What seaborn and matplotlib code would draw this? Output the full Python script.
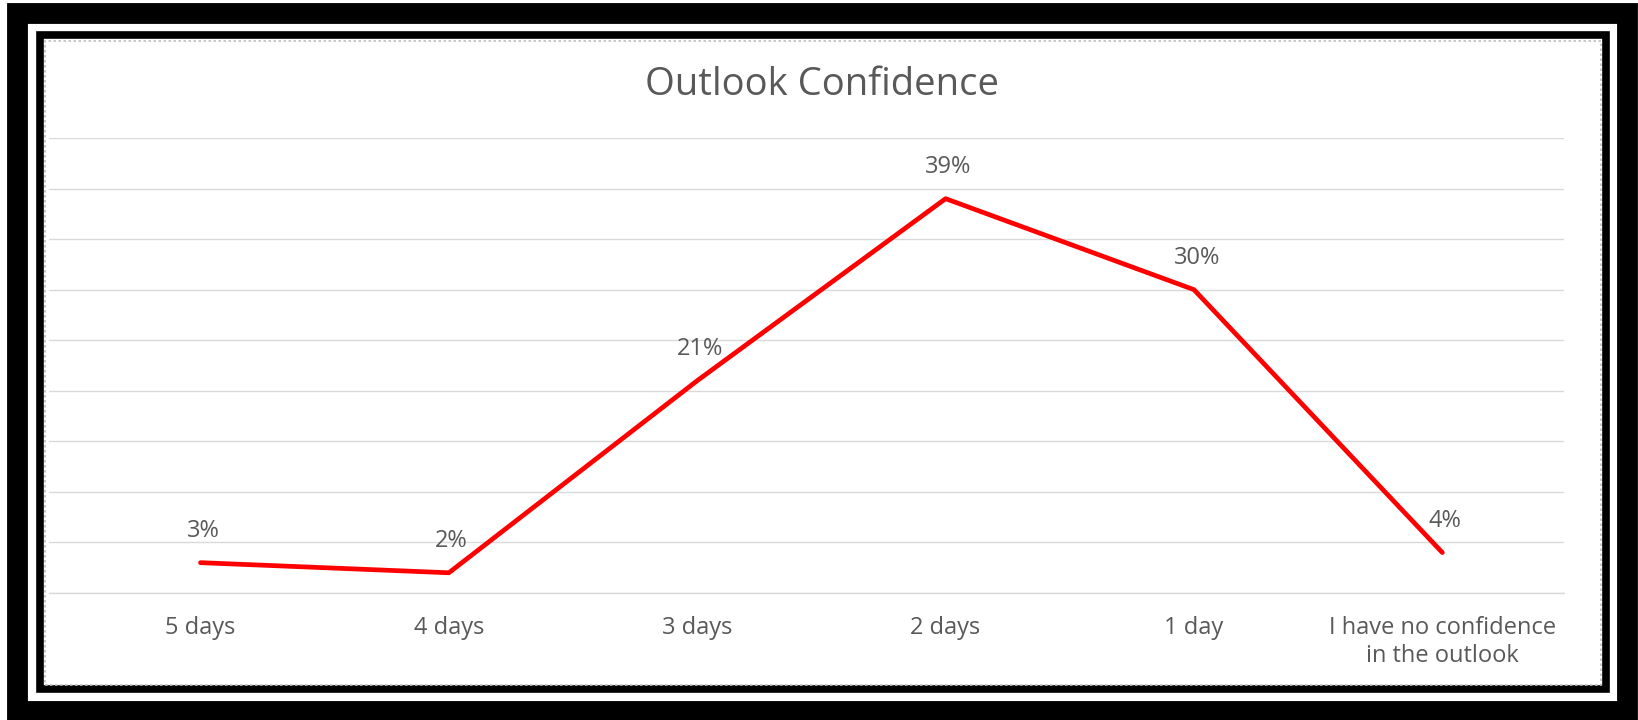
import matplotlib
import matplotlib.pyplot as plt
import pandas as pd
import seaborn as sns
from matplotlib.patches import Rectangle

categories = ['5 days', '4 days', '3 days', '2 days', '1 day',
              'I have no confidence\nin the outlook']
values = [3, 2, 21, 39, 30, 4]
labels = ['3%', '2%', '21%', '39%', '30%', '4%']

df = pd.DataFrame({'when': categories, 'pct': values})

sns.set_style('white')
plt.rcParams['font.family'] = ['Open Sans', 'DejaVu Sans']

W, H = 1638, 720
fig = plt.figure(figsize=(W / 100, H / 100), dpi=100)
fig.patch.set_facecolor('white')


def box(x0, y0, x1, y1, **kw):
    # pixel coords from top-left -> figure fraction
    r = Rectangle((x0 / W, 1 - y1 / H), (x1 - x0) / W, (y1 - y0) / H,
                  transform=fig.transFigure, fill=False, **kw)
    fig.add_artist(r)


# outer heavy frame, white gap, inner frame, dotted chart border
box(17, 13, 1627, 711, lw=15, edgecolor='black')
box(39.5, 35, 1605.5, 689, lw=5.5, edgecolor='black')
box(44.5, 40.5, 1600.5, 684.5, lw=1.2, edgecolor='#bfbfbf', linestyle=(0, (1.5, 1.5)))

ax = fig.add_axes([49 / W, 1 - 593 / H, (1564 - 49) / W, (593 - 138) / H])
sns.lineplot(data=df, x='when', y='pct', sort=False, color='#ff0000',
             linewidth=3.4, ax=ax)

ax.set_ylim(0, 45)
ax.set_yticks(range(0, 46, 5))
ax.set_xlim(-0.61, 5.49)
ax.grid(axis='y', color='#d9d9d9', linewidth=1)
ax.axhline(0, color='#d9d9d9', linewidth=1, clip_on=False, zorder=0)
ax.set_axisbelow(True)
for s in ax.spines.values():
    s.set_visible(False)
ax.tick_params(axis='y', left=False, labelleft=False)
ax.tick_params(axis='x', bottom=False, labelsize=17, labelcolor='#595959', pad=13)
ax.set_xlabel('')
ax.set_ylabel('')

for i, (v, t) in enumerate(zip(values, labels)):
    ax.annotate(t, (i, v), xytext=(2, 23), textcoords='offset points',
                ha='center', va='center', fontsize=17, color='#595959')

fig.text(822 / W, 1 - 85 / H, 'Outlook Confidence', ha='center', va='center',
         fontsize=27.5, color='#595959')

plt.savefig('out.png', dpi=100)
